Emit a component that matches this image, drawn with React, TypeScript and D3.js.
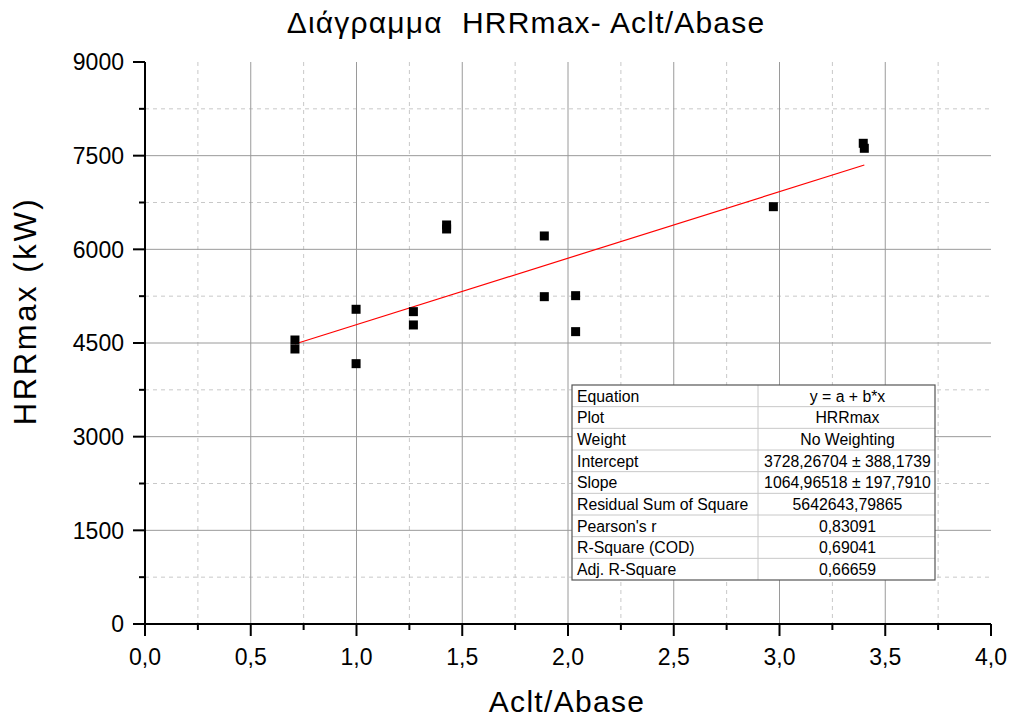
import React from "react";
import * as d3 from "d3";

// Measured samples: area ratio vs. peak heat release rate
const ratio = [0.709, 0.709, 0.998, 0.998, 1.269, 1.269, 1.426, 1.426, 1.888, 1.888, 2.036, 2.036, 2.971, 3.396, 3.401];
const hrrMax = [4548, 4404, 5040, 4169, 5002, 4789, 6390, 6326, 6214, 5242, 5258, 4682, 6683, 7698, 7618];

// Linear fit parameters
const intercept = 3728.26704;
const slope = 1064.96518;

const xMajor = [0, 0.5, 1, 1.5, 2, 2.5, 3, 3.5, 4];
const xMinor = [0.25, 0.75, 1.25, 1.75, 2.25, 2.75, 3.25, 3.75];
const yMajor = [0, 1500, 3000, 4500, 6000, 7500, 9000];
const yMinor = [750, 2250, 3750, 5250, 6750, 8250];

const statLabels = [
  "Equation", "Plot", "Weight", "Intercept", "Slope",
  "Residual Sum of Square", "Pearson's r", "R-Square (COD)", "Adj. R-Square",
];
const statValues = [
  "y = a + b*x", "HRRmax", "No Weighting", "3728,26704 ± 388,1739",
  "1064,96518 ± 197,7910", "5642643,79865", "0,83091", "0,69041", "0,66659",
];

const W = 1012;
const H = 717;
const left = 145, right = 991, top = 62, bottom = 624;
const font = "Arial, 'Liberation Sans', sans-serif";

export default function App() {
  const x = d3.scaleLinear().domain([0, 4]).range([left, right]);
  const y = d3.scaleLinear().domain([0, 9000]).range([bottom, top]);
  const fmtX = (v: number) => d3.format(".1f")(v).replace(".", ",");

  const x0 = d3.min(ratio)!;
  const x1 = d3.max(ratio)!;
  const fitLine = d3.line<number>()
    .x((v) => x(v))
    .y((v) => y(intercept + slope * v))([x0, x1]);

  const tblLeft = 572, tblTop = 385, tblRight = 935, colSplit = 758;
  const rowH = (580 - 385) / statLabels.length;

  return (
    <svg width={W} height={H} style={{ position: "absolute", left: 0, top: 0, background: "#fff" }} fontFamily={font}>
      <rect x={0} y={0} width={W} height={H} fill="#fff" />

      {/* minor grid */}
      {yMinor.map((v) => (
        <line key={"ym" + v} x1={left} x2={right} y1={y(v)} y2={y(v)} stroke="#c8c8c8" strokeDasharray="4,4" />
      ))}
      {xMinor.map((v) => (
        <line key={"xm" + v} x1={x(v)} x2={x(v)} y1={top} y2={bottom} stroke="#c8c8c8" strokeDasharray="4,4" />
      ))}
      {/* major grid */}
      {yMajor.filter((v) => v > 0 && v < 9000).map((v) => (
        <line key={"yg" + v} x1={left} x2={right} y1={y(v)} y2={y(v)} stroke="#9a9a9a" />
      ))}
      {xMajor.filter((v) => v > 0 && v < 4).map((v) => (
        <line key={"xg" + v} x1={x(v)} x2={x(v)} y1={top} y2={bottom} stroke="#9a9a9a" />
      ))}

      {/* fit line */}
      <path d={fitLine || ""} stroke="#ff0000" strokeWidth={1.2} fill="none" />

      {/* points */}
      {ratio.map((r, i) => (
        <rect key={"p" + i} x={x(r) - 4.5} y={y(hrrMax[i]) - 4.5} width={9} height={9} fill="#000" />
      ))}

      {/* axes */}
      <line x1={left} x2={left} y1={top} y2={bottom + 1} stroke="#000" strokeWidth={2} />
      <line x1={left - 1} x2={right} y1={bottom} y2={bottom} stroke="#000" strokeWidth={2} />
      {yMajor.map((v) => (
        <g key={"yt" + v}>
          <line x1={left - 12} x2={left} y1={y(v)} y2={y(v)} stroke="#000" strokeWidth={2} />
          <text x={left - 21} y={y(v)} dy="0.36em" textAnchor="end" fontSize={23}>{v}</text>
        </g>
      ))}
      {yMinor.map((v) => (
        <line key={"ymt" + v} x1={left - 6} x2={left} y1={y(v)} y2={y(v)} stroke="#000" strokeWidth={2} />
      ))}
      {xMajor.map((v) => (
        <g key={"xt" + v}>
          <line x1={x(v)} x2={x(v)} y1={bottom} y2={bottom + 12} stroke="#000" strokeWidth={2} />
          <text x={x(v)} y={665} textAnchor="middle" fontSize={23}>{fmtX(v)}</text>
        </g>
      ))}
      {xMinor.map((v) => (
        <line key={"xmt" + v} x1={x(v)} x2={x(v)} y1={bottom} y2={bottom + 6} stroke="#000" strokeWidth={2} />
      ))}

      {/* titles */}
      <text x={526} y={33} textAnchor="middle" fontSize={30} letterSpacing={1.2} xmlSpace="preserve">Διάγραμμα  HRRmax- Aclt/Abase</text>
      <text x={567} y={712} textAnchor="middle" fontSize={30} letterSpacing={1.3}>Aclt/Abase</text>
      <text transform={`translate(36,311) rotate(-90)`} textAnchor="middle" fontSize={31} letterSpacing={2.6}>HRRmax (kW)</text>

      {/* statistics table */}
      <g>
        <rect x={tblLeft} y={tblTop} width={tblRight - tblLeft} height={rowH * statLabels.length} fill="#fff" />
        {statLabels.map((lab, i) => (
          <g key={"r" + i}>
            {i > 0 && (
              <line x1={tblLeft} x2={tblRight} y1={tblTop + i * rowH} y2={tblTop + i * rowH} stroke="#c8c8c8" />
            )}
            <text x={tblLeft + 5} y={tblTop + i * rowH + rowH / 2} dy="0.36em" fontSize={15.8}>{lab}</text>
            <text x={(colSplit + tblRight) / 2 + 1} y={tblTop + i * rowH + rowH / 2} dy="0.36em" textAnchor="middle" fontSize={15.8}>{statValues[i]}</text>
          </g>
        ))}
        <line x1={colSplit} x2={colSplit} y1={tblTop} y2={tblTop + rowH * statLabels.length} stroke="#c8c8c8" />
        <rect x={tblLeft} y={tblTop} width={tblRight - tblLeft} height={rowH * statLabels.length} fill="none" stroke="#555" strokeWidth={1.2} />
      </g>
    </svg>
  );
}
